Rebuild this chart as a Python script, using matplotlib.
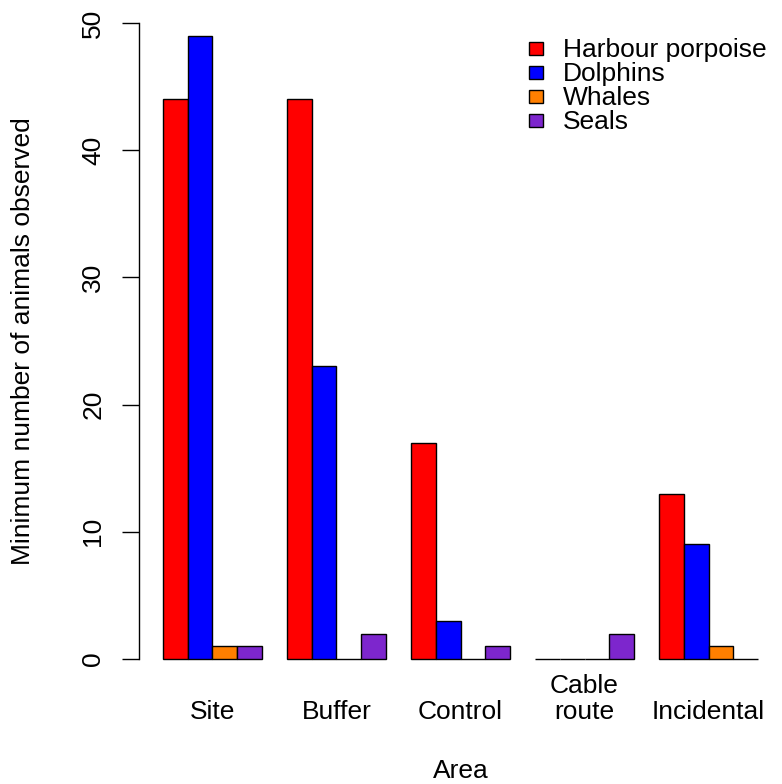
import numpy as np
import matplotlib
matplotlib.use('Agg')
import matplotlib.pyplot as plt
from matplotlib.patches import Rectangle

# Datos
areas = ['Site', 'Buffer', 'Control', 'Cable\nroute', 'Incidental']
species = ['Harbour porpoise', 'Dolphins', 'Whales', 'Seals']
porpoise = [44, 44, 17, 0, 13]
dolphins = [49, 23, 3, 0, 9]
whales = [1, 0, 0, 0, 1]
seals = [1, 2, 1, 2, 0]
colores = ['#FF0000', '#0000FF', '#FF7F00', '#7D26CD']

plt.rcParams['font.family'] = ['Liberation Sans', 'DejaVu Sans']
fs = 19

W, H = 782, 784
fig = plt.figure(figsize=(W / 100, H / 100), dpi=100)

def px(x, y):
    # pixel (desde arriba) -> coordenadas de figura
    return x / W, 1 - y / H

ax = fig.add_axes([139 / W, (H - 684.4) / H, (782 - 139) / W, 686.8 / H])

series = [porpoise, dolphins, whales, seals]
grupos = np.arange(len(areas))
for s, (vals, col) in enumerate(zip(series, colores)):
    x = 1 + 5 * grupos + s
    ax.bar(x, vals, width=1, align='edge', color=col,
           edgecolor='black', linewidth=1.0)

ax.set_xlim(0.04, 25.96)
ax.set_ylim(-2, 52)
for lado in ['top', 'right', 'bottom']:
    ax.spines[lado].set_visible(False)
ax.spines['left'].set_bounds(0, 50)
ax.spines['left'].set_linewidth(1.0)
ax.set_yticks(range(0, 51, 10))
ax.tick_params(axis='y', length=12.2, width=1.0, pad=12, labelsize=fs,
               labelrotation=90)
for lab in ax.get_yticklabels():
    lab.set_va('center')
ax.set_xticks([])

# Etiquetas de las areas
centros = 1 + 5 * grupos + 2
for c, nombre in zip(centros, areas):
    ax.text(c, -0.057, nombre, transform=ax.get_xaxis_transform(),
            ha='center', va='bottom', fontsize=fs, linespacing=1.1)

fig.text(*px(460.5, 778), 'Area', ha='center', va='baseline', fontsize=fs)
fig.text(*px(23, 341), 'Minimum number of animals observed', rotation=90,
         ha='center', va='center', fontsize=fs)

# Leyenda sin marco
for i, (nombre, col) in enumerate(zip(species, colores)):
    y0 = 48 + 24.3 * i
    x0, y1 = px(529, y0 + 6.5)
    fig.patches.append(Rectangle((x0, y1), 14 / W, 13 / H, facecolor=col,
                                 edgecolor='black', linewidth=1.0,
                                 transform=fig.transFigure, figure=fig))
    fig.text(*px(563, y0 + 8.5), nombre, ha='left', va='baseline', fontsize=fs)

fig.savefig('out.png', dpi=100)
